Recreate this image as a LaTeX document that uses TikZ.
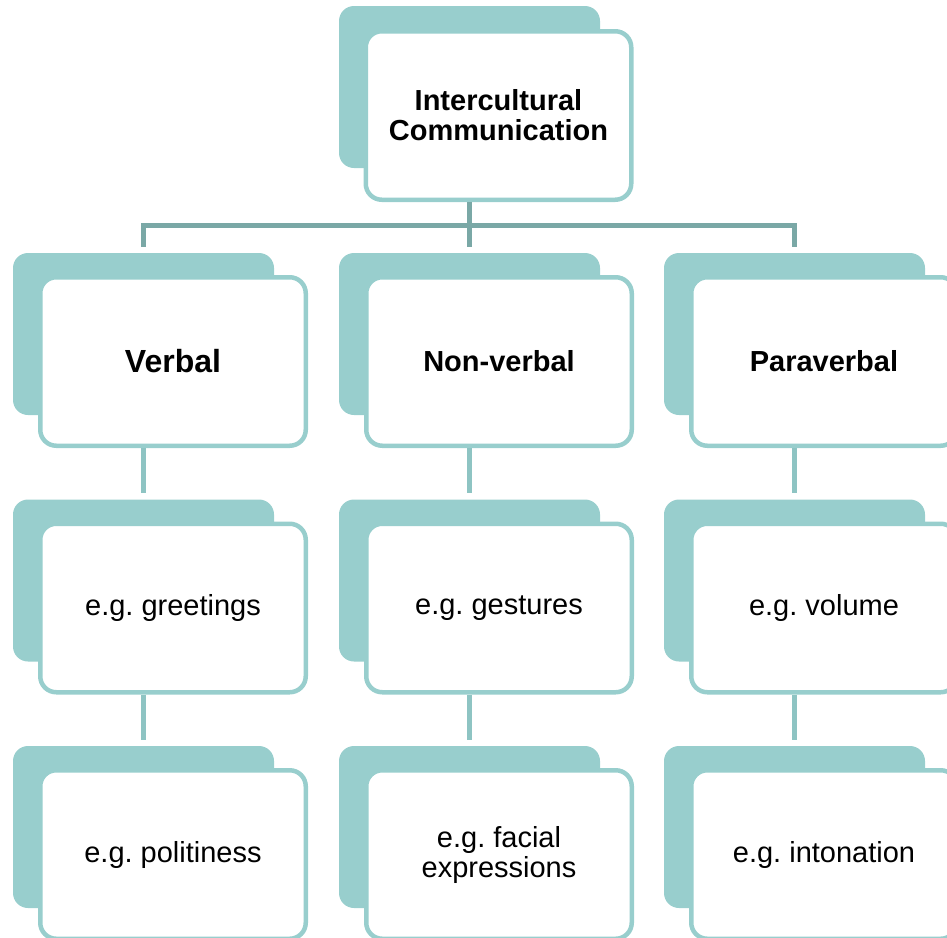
\documentclass[tikz,border=0pt]{standalone}
\usepackage{fontspec}
\setmainfont{Liberation Sans}
\frenchspacing
\definecolor{boxteal}{RGB}{152,206,205}
\definecolor{rowteal}{RGB}{142,196,195}
\definecolor{busteal}{RGB}{122,168,166}
\tikzset{
  backbox/.style={fill=boxteal, rounded corners=15pt, minimum width=261pt, minimum height=162pt, inner sep=0pt},
  frontbox/.style={draw=boxteal, fill=white, line width=4.5pt, rounded corners=16pt, minimum width=265.5pt, minimum height=168.5pt, inner sep=0pt, align=center, font=\fontsize{29}{30}\selectfont},
  buslink/.style={draw=busteal, line width=5pt},
  rowlink/.style={draw=rowteal, line width=5pt}
}
\begin{document}
\begin{tikzpicture}[x=1pt, y=-1pt]
\useasboundingbox (0,0) rectangle (947,937);
\clip (0,0) rectangle (947,937); % right and bottom boxes are cut
% top box
\node[backbox] (kind0) at (469.5,87) {};
\node[frontbox] (kindf0) at (498.5,115.5) {\textbf{Intercultural}\\\textbf{Communication}};
\coordinate (bus) at (469.5,225.5); % main ligne
% the three columns
\foreach \n/\x/\kind/\exa/\exb in {1/143.5/{\fontsize{32}{33}\selectfont Verbal}/e.g. greetings/e.g. politiness,
    2/469.5/Non-verbal/e.g. gestures/{e.g. facial\\expressions},
    3/794.5/Paraverbal/e.g. volume/e.g. intonation}{
  \node[backbox] (kind\n) at (\x,334) {};
  \node[frontbox] (kindf\n) at (\x+29.5,361.5) {\textbf{\kind}};
  \node[backbox] (exa\n) at (\x,580.5) {};
  \node[frontbox] (exaf\n) at (\x+29.5,608) {\exa};
  \node[backbox] (exb\n) at (\x,827) {};
  \node[frontbox] (exbf\n) at (\x+29.5,854.5) {\exb};
  \draw[rowlink] (kind\n |- kindf\n.south) -- ([yshift=6pt]exa\n.north); % kind to first example
  \draw[rowlink] (exa\n |- exaf\n.south) -- ([yshift=6pt]exb\n.north); % first to second example
}
\draw[buslink] ([yshift=6pt]kind1.north) |- (bus) -| ([yshift=6pt]kind3.north);
\draw[buslink] (kind0 |- kindf0.south) -- ([yshift=6pt]kind2.north);
\end{tikzpicture}
\end{document}
